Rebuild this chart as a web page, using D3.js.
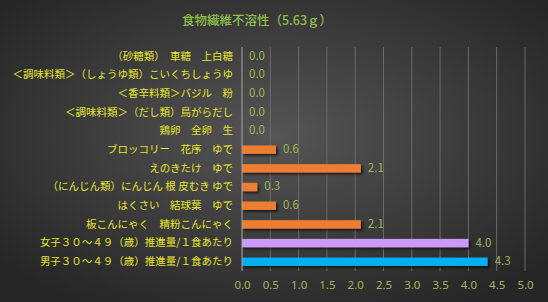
<!DOCTYPE html>
<html>
<head>
<meta charset="utf-8">
<script src="https://cdn.jsdelivr.net/npm/d3@7"></script>
<style>
  html, body { margin: 0; padding: 0; background: #333; }
  svg { display: block; font-family: "Noto Sans CJK JP", "Noto Sans", sans-serif; }
</style>
</head>
<body>
<svg id="chart" width="548" height="302"></svg>
<script>
// Data
const title = "食物繊維不溶性（5.63ｇ）";
const categories = [
    "（砂糖類）　車糖　上白糖",
    "＜調味料類＞（しょうゆ類）こいくちしょうゆ",
    "＜香辛料類＞バジル　粉",
    "＜調味料類＞（だし類）鳥がらだし",
    "鶏卵　全卵　生",
    "ブロッコリー　花序　ゆで",
    "えのきたけ　ゆで",
    "（にんじん類）にんじん 根 皮むき ゆで",
    "はくさい　結球葉　ゆで",
    "板こんにゃく　精粉こんにゃく",
    "女子３０～４９（歳）推進量/１食あたり",
    "男子３０～４９（歳）推進量/１食あたり"
];
const values = [0, 0, 0, 0, 0, 0.6, 2.1, 0.27, 0.6, 2.1, 4.0, 4.34];
const barColors = ["#ed7d31", "#ed7d31", "#ed7d31", "#ed7d31", "#ed7d31", "#ed7d31",
                   "#ed7d31", "#ed7d31", "#ed7d31", "#ed7d31", "#cc99ff", "#00b0f0"];
const xTicks = [0, 0.5, 1, 1.5, 2, 2.5, 3, 3.5, 4, 4.5, 5];

const width = 548, height = 302;
const margin = { top: 47, right: 23, bottom: 31, left: 242 };

const svg = d3.select("#chart");
const defs = svg.append("defs");

// dark radial background like the spreadsheet chart
const grad = defs.append("radialGradient")
    .attr("id", "bg")
    .attr("cx", "50%").attr("cy", "45%").attr("r", "65%");
grad.append("stop").attr("offset", "0%").attr("stop-color", "#555555");
grad.append("stop").attr("offset", "100%").attr("stop-color", "#262626");

const shadow = defs.append("filter").attr("id", "shadow")
    .attr("x", "-10%").attr("y", "-50%").attr("width", "130%").attr("height", "250%");
shadow.append("feDropShadow")
    .attr("dx", 2).attr("dy", 2).attr("stdDeviation", 1.2)
    .attr("flood-color", "#000").attr("flood-opacity", 0.6);

svg.append("rect").attr("width", width).attr("height", height).attr("fill", "url(#bg)");

const x = d3.scaleLinear().domain([0, 5]).range([margin.left, width - margin.right]);
const y = d3.scaleBand().domain(categories)
    .range([margin.top, height - margin.bottom])
    .paddingInner(0.55).paddingOuter(0.27);

// title
svg.append("text")
    .attr("x", 257).attr("y", 25)
    .attr("text-anchor", "middle")
    .attr("fill", "#8fc04a")
    .style("font-size", "12.5px")
    .style("font-weight", "500")
    .text(title);

// gridlines
svg.append("g")
    .selectAll("line")
    .data(xTicks.slice(1))
    .join("line")
    .attr("x1", d => x(d)).attr("x2", d => x(d))
    .attr("y1", margin.top).attr("y2", height - margin.bottom)
    .attr("stroke", "#6a6a6a").attr("stroke-width", 1);

// bars
svg.append("g")
    .selectAll("rect")
    .data(values)
    .join("rect")
    .attr("x", x(0))
    .attr("y", (d, i) => y(categories[i]))
    .attr("width", d => x(d) - x(0))
    .attr("height", y.bandwidth())
    .attr("fill", (d, i) => barColors[i])
    .attr("filter", "url(#shadow)");

// value axis line at zero
svg.append("line")
    .attr("x1", x(0)).attr("x2", x(0))
    .attr("y1", margin.top).attr("y2", height - margin.bottom)
    .attr("stroke", "#a6a6a6").attr("stroke-width", 1);

// value labels
svg.append("g")
    .selectAll("text")
    .data(values)
    .join("text")
    .attr("x", d => x(d) + 7)
    .attr("y", (d, i) => y(categories[i]) + y.bandwidth() / 2)
    .attr("dy", "0.3em")
    .attr("fill", "#9bbb59")
    .style("font-size", "11.5px")
    .text(d => d.toFixed(1));

// category axis labels
const yAxis = d3.axisLeft(y).tickSize(0).tickPadding(9);
const yg = svg.append("g").attr("transform", `translate(${x(0)},0)`).call(yAxis);
yg.select(".domain").remove();
yg.selectAll("text")
    .attr("fill", "#e6e62e")
    .style("font-size", "10.5px")
    .style("font-family", "'Noto Sans CJK JP', sans-serif");

// x axis tick labels
const xAxis = d3.axisBottom(x).tickValues(xTicks).tickFormat(d3.format(".1f")).tickSize(0).tickPadding(10);
const xg = svg.append("g").attr("transform", `translate(0,${height - margin.bottom})`).call(xAxis);
xg.select(".domain").remove();
xg.selectAll("text")
    .attr("fill", "#9bbb59")
    .style("font-size", "11.5px")
    .style("font-family", "'Noto Sans', sans-serif");
</script>
</body>
</html>
